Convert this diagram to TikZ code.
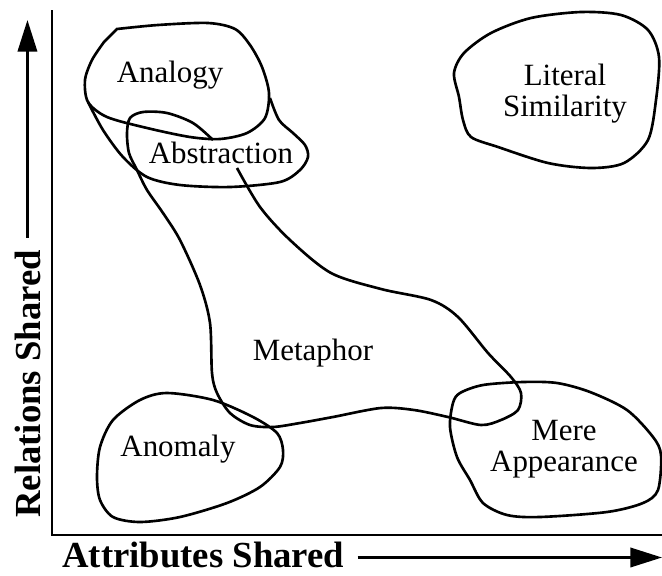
\documentclass[tikz,border=0pt]{standalone}
\usepackage{fontspec}
\setmainfont{Liberation Serif}
\usetikzlibrary{arrows.meta}

\tikzset{
	blob/.style={draw, line width=1.5pt},
	region/.style={font=\fontsize{17.6}{17.6}\selectfont, align=center, inner sep=0pt},
	axislabel/.style={font=\fontsize{20.9}{21}\selectfont\bfseries, inner sep=0pt},
	axis/.style={line width=1.5pt},
	dirarrow/.style={line width=1.5pt, -{Triangle[length=18pt,width=11pt]}}
}

\begin{document}
\begin{tikzpicture}[x=0.02cm, y=-0.02cm]
		\useasboundingbox (0,0) rectangle (662,575);

		% Axes
		\coordinate (top) at (52,10);
		\coordinate (origin) at (52,535);
		\coordinate (right) at (662,535);
		\draw[axis] (top) -- (origin) -- (right);

		% Axis labels
		\node[axislabel, rotate=90, anchor=base west] (rel) at (40,518) {Relations Shared};
		\node[axislabel, anchor=base west] (attr) at (62,567) {Attributes Shared};

		% Direction arrows
		\coordinate (relend) at (27,20);
		\path (rel.east) ++(0,-12) coordinate (reltail);
		\path (attr.east) ++(13,3) coordinate (attrtail);
		\draw[dirarrow] (reltail) -- (reltail |- relend);
		\draw[dirarrow] (attrtail) -- (attrtail -| right);

		% Region labels
		\node[region, anchor=base] (analogy) at (170,82) {Analogy};
		\node[region, anchor=base] (abstraction) at (221,163) {Abstraction};
		\node[region] (literal) at (565,94) {Literal\\Similarity};
		\node[region, anchor=base] (metaphor) at (313,360) {Metaphor};
		\node[region, anchor=base] (anomaly) at (178,456) {Anomaly};
		\node[region] (mere) at (564,449) {Mere\\Appearance};

		% Analogy
		\draw[blob] plot[smooth] coordinates {(117,29) (158,25) (208,23) (235,29) (250,45)
			(262,67) (269,93) (265,118) (247,133) (220,139) (190,137) (147,128) (107,117)
			(88,102) (85,80) (92,60) (104,42)} -- cycle;

		% Abstraction
		\draw[blob] plot[smooth] coordinates {(88,102) (103,130) (123,157) (147,177) (180,185)
			(230,187) (280,182) (300,170) (308,157) (305,145) (293,133) (279,120) (270,98)};

		% Metaphor
		\draw[blob] plot[smooth] coordinates {(213,140) (193,123) (167,113) (143,112) (130,118)
			(127,133) (129,153) (137,170) (147,190) (163,213) (180,240) (200,285) (210,323)
			(212,373) (217,393) (230,413) (250,425) (273,427) (300,423) (333,417) (381,408)
			(414,410) (448,417) (481,425) (501,420) (518,410) (521,393) (511,377) (488,353)
			(458,317) (431,300) (381,289) (331,273) (290,240) (260,207) (237,168)};

		% Anomaly
		\draw[blob] plot[smooth cycle] coordinates {(100,447) (113,420) (140,400) (167,393)
			(213,400) (253,417) (277,433) (283,450) (280,467) (260,487) (227,503) (180,517)
			(140,522) (113,517) (100,500) (97,477)};

		% Mere Appearance
		\draw[blob] plot[smooth cycle] coordinates {(453,403) (460,393) (483,385) (523,382)
			(557,383) (590,392) (627,410) (653,437) (661,455) (658,490) (643,503) (607,512)
			(540,517) (507,515) (483,503) (470,480) (457,457) (450,427)};

		% Literal Similarity
		\draw[blob] plot[smooth cycle] coordinates {(464,53) (491,33) (531,18) (581,12)
			(621,15) (648,30) (659,57) (656,100) (648,140) (624,163) (591,168) (548,163)
			(498,147) (471,137) (463,120) (459,97) (454,73)};
\end{tikzpicture}
\end{document}
